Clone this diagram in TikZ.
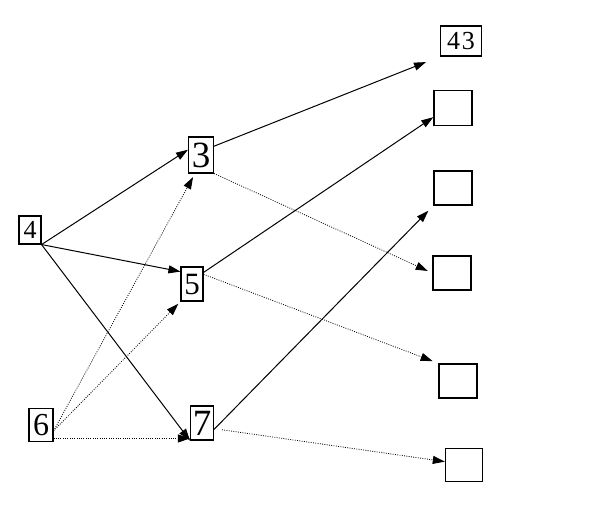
\documentclass[tikz,border=0pt]{standalone}
\usepackage{fontspec}
\setmainfont{Liberation Serif}
\usetikzlibrary{arrows.meta,calc}

\begin{document}
\begin{tikzpicture}[x=1pt,y=-1pt,>={Triangle[length=12pt,width=8pt]},
  numbox/.style={rectangle,draw,line width=1.1pt,inner sep=0pt},
  blankbox/.style={rectangle,draw,line width=1.4pt,inner sep=0pt,minimum width=38pt,minimum height=34pt},
  solidarr/.style={->,line width=1pt},
  dotarr/.style={->,line width=0.8pt,dash pattern=on 0.9pt off 1.4pt}]
  \useasboundingbox (0,0) rectangle (598,512);
  % left column
  \node[numbox,minimum width=22pt,minimum height=28pt,font=\fontsize{26}{26}\selectfont] (n4) at (30,230) {4};
  \node[numbox,minimum width=24pt,minimum height=33pt,font=\fontsize{32}{32}\selectfont] (n6) at (41,425) {6};
  % middle column
  \node[numbox,minimum width=25pt,minimum height=36pt,font=\fontsize{37}{37}\selectfont] (n3) at (201,155) {3};
  \node[numbox,minimum width=22pt,minimum height=34pt,font=\fontsize{31}{31}\selectfont] (n5) at (192,284) {5};
  \node[numbox,minimum width=23pt,minimum height=34pt,font=\fontsize{37}{37}\selectfont] (n7) at (202,423) {7};
  % right column
  \node[numbox,minimum width=41pt,minimum height=30pt,font=\fontsize{26}{26}\selectfont] (t43) at (461,41) {4\kern2pt3};
  \node[blankbox,minimum height=35pt] (ta) at (453,108) {};
  \node[blankbox] (tb) at (453,188) {};
  \node[blankbox] (tc) at (452,273) {};
  \node[blankbox] (td) at (458,381) {};
  \node[blankbox,minimum width=37pt,minimum height=33pt] (te) at (464,465) {};
  % from 4
  \draw[solidarr] (n4.south east) -- (n3.158);
  \draw[solidarr] (n4.south east) -- (n5.133);
  \draw[solidarr] (n4.south east) -- (n7.south west);
  % from 6
  \draw[dotarr,shorten >=4pt] (n6.-25) -- (n3.-108);
  \draw[dotarr,shorten >=3pt] (n6.-25) -- (n5.south west);
  \draw[dotarr] (n6.-47) -- (n7.west |- n6.-47);
  % from the middle
  \draw[solidarr,shorten >=15pt] (n3.34) -- (t43.south west);
  \draw[dotarr,shorten >=5pt] (n3.south east) -- (tc.west);
  \draw[solidarr] (n5.45) -- (ta.-155);
  \draw[dotarr,shorten >=6pt] (n5.40) -- (td.north west);
  \draw[solidarr,shorten >=7pt] (n7.-28) -- (tb.south west);
  \draw[dotarr,shorten <=8pt] (n7.-25) -- (te.170);
\end{tikzpicture}
\end{document}
